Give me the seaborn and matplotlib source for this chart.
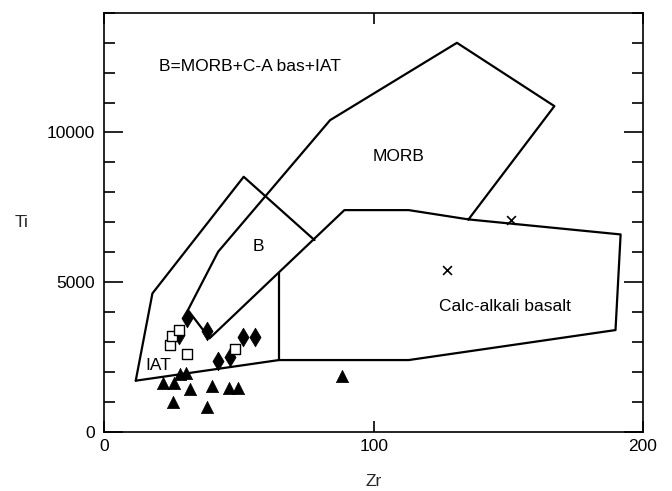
import numpy as np
import pandas as pd
import seaborn as sns
import matplotlib
matplotlib.use("Agg")
import matplotlib.pyplot as plt
from matplotlib.ticker import MultipleLocator

# Alan sınırları (Zr, Ti)
outer_zr = [11.6, 17.8, 51.7, 78.0]
outer_ti = [1704, 4621, 8519, 6403]

main_zr = [11.6, 64.8, 113.0, 189.8, 191.7, 135.2, 113.0, 89.1, 39.0, 31.0,
           42.2, 83.8, 130.9, 167.1, 135.2]
main_ti = [1704, 2394, 2394, 3396, 6592, 7094, 7405, 7405, 3118, 4065,
           6013, 10412, 12996, 10880, 7094]

divider_zr = [64.8, 64.8]
divider_ti = [2394, 5300]

# Örnek noktaları
tri_zr = [21.8, 25.8, 25.5, 28.2, 30.2, 31.7, 40.1, 37.9, 46.1, 49.6, 88.3]
tri_ti = [1615, 1615, 1002, 1926, 1971, 1425, 1537, 835, 1448, 1448, 1860]

dia_zr = [30.6, 27.8, 37.9, 51.3, 56.0, 42.0, 46.8]
dia_ti = [3786, 3229, 3374, 3165, 3165, 2365, 2490]

sq_zr = [24.2, 25.1, 27.6, 30.8, 48.6]
sq_ti = [2885, 3196, 3396, 2590, 2775]

x_zr = [127.2, 150.9]
x_ti = [5390, 7072]

# Etiketler
labels = ["B=MORB+C-A bas+IAT", "MORB", "B", "Calc-alkali basalt", "IAT"]
label_zr = [54.1, 109.3, 57.0, 148.8, 19.9]
label_ti = [12216, 9187, 6203, 4198, 2227]

sns.set_style("ticks")
plt.rcParams['font.family'] = ['Liberation Sans', 'DejaVu Sans']

fig = plt.figure(figsize=(6.72, 4.91), dpi=100)
ax = fig.add_axes([0.1555, 0.1208, 0.8013, 0.8532])

for zr, ti in [(outer_zr, outer_ti), (main_zr, main_ti),
               (divider_zr, divider_ti)]:
    df = pd.DataFrame({'Zr': zr, 'Ti': ti})
    sns.lineplot(data=df, x='Zr', y='Ti', sort=False, estimator=None,
                 color='black', linewidth=1.6, ax=ax)

sns.scatterplot(x=tri_zr, y=tri_ti, marker='^', s=78, color='black',
                edgecolor='black', linewidth=0.5, ax=ax, zorder=3)
sns.scatterplot(x=dia_zr, y=dia_ti, marker='d', s=90, color='black',
                edgecolor='black', linewidth=0.5, ax=ax, zorder=3)
sns.scatterplot(x=sq_zr, y=sq_ti, marker='s', s=46, facecolor='white',
                edgecolor='black', linewidth=1.0, ax=ax, zorder=4)
sns.scatterplot(x=x_zr, y=x_ti, marker='x', s=40, color='black',
                linewidth=1.2, ax=ax, zorder=3)

for txt, zr, ti in zip(labels, label_zr, label_ti):
    ax.text(zr, ti, txt, ha='center', va='center', fontsize=12.5,
            color='black')

ax.set_xlim(0, 200)
ax.set_ylim(0, 14000)
ax.set_xticks([0, 100, 200])
ax.set_yticks([0, 5000, 10000])
ax.yaxis.set_minor_locator(MultipleLocator(1000))

ax.tick_params(axis='both', which='both', direction='in', top=True,
               right=True, colors='black', labelsize=12.5, width=1.2)
ax.tick_params(axis='x', which='major', length=7.6, pad=5)
ax.tick_params(axis='y', which='major', length=13.7, pad=7)
ax.tick_params(axis='y', which='minor', length=7.6)

for sp in ax.spines.values():
    sp.set_linewidth(1.2)
    sp.set_color('black')

ax.set_xlabel('Zr', fontsize=12.5, labelpad=15)
ax.set_ylabel('Ti', fontsize=12.5, rotation=0, labelpad=18, va='center')

fig.savefig('out.png', dpi=100)
